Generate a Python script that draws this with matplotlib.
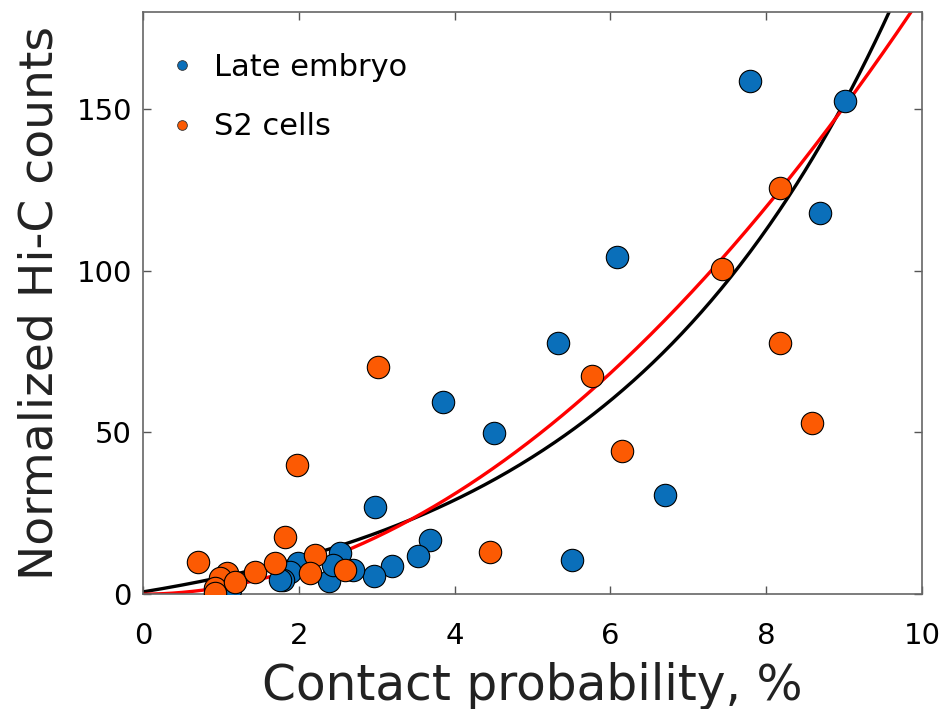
import numpy as np
import matplotlib
matplotlib.use("Agg")
import matplotlib.pyplot as plt
from matplotlib.lines import Line2D

# Late embryo data
embryo_x = [7.79, 9.01, 8.69, 6.08, 5.33, 3.85, 4.51, 6.70, 2.98, 5.51, 3.68, 3.53,
            3.20, 2.97, 2.39, 2.53, 2.70, 2.44, 1.99, 1.89, 1.80, 1.76, 1.12]
embryo_y = [158.6, 152.5, 117.9, 104.3, 77.8, 59.3, 49.7, 30.6, 26.9, 10.5, 16.7, 11.7,
            8.6, 5.6, 4.0, 12.7, 7.4, 9.0, 9.6, 6.8, 4.3, 4.3, 1.2]

# S2 cells data
s2_x = [8.18, 7.43, 8.18, 8.59, 5.76, 6.15, 3.02, 4.45, 1.98, 1.82, 0.71, 1.08,
        0.99, 0.92, 0.92, 1.18, 1.44, 1.69, 2.21, 2.14, 2.59]
s2_y = [125.6, 100.6, 77.8, 52.8, 67.6, 44.4, 70.1, 13.0, 39.8, 17.6, 9.9, 6.5,
        4.9, 1.9, 0.4, 3.7, 6.8, 9.6, 12.0, 6.5, 7.4]

# Fit curves (parameters)
black_A, black_B, black_C = 14.6, 0.27, 0.7     # A*(exp(Bx)-1)+C
red_a, red_b = 2.076, 1.95                      # a*x^b

BLUE = "#0a6fba"
ORANGE = "#fc5a03"

fig = plt.figure(figsize=(9.49, 7.09), dpi=100)
ax = fig.add_axes([0.1507, 0.162, 0.8208, 0.821])

xf = np.linspace(0, 10, 400)
ax.plot(xf, black_A * (np.exp(black_B * xf) - 1) + black_C, color="black", lw=2.4, zorder=2)
ax.plot(xf, red_a * xf ** red_b, color="red", lw=2.4, zorder=2)

ax.scatter(embryo_x, embryo_y, s=260, c=BLUE, edgecolors="black", linewidths=0.8, zorder=3)
ax.scatter(s2_x, s2_y, s=260, c=ORANGE, edgecolors="black", linewidths=0.8, zorder=4)

ax.set_xlim(0, 10)
ax.set_ylim(0, 180)
ax.set_xticks([0, 2, 4, 6, 8, 10])
ax.set_yticks([0, 50, 100, 150])
ax.tick_params(direction="in", top=True, right=True, length=6, width=1, color="#555555",
               labelsize=21)
ax.tick_params(axis="x", pad=20)
ax.tick_params(axis="y", pad=8)
for sp in ax.spines.values():
    sp.set_color("#666666")
    sp.set_linewidth(1.2)

ax.set_xlabel("Contact probability, %", fontsize=35, labelpad=9, color="#222222")
ax.set_ylabel("Normalized Hi-C counts", fontsize=34, labelpad=10, color="#222222")

handles = [Line2D([], [], ls="none", marker="o", ms=7, mfc=BLUE, mec="#333333", mew=0.6),
           Line2D([], [], ls="none", marker="o", ms=7, mfc=ORANGE, mec="#333333", mew=0.6)]
ax.legend(handles, ["Late embryo", "S2 cells"], loc="upper left", frameon=False,
          fontsize=22, labelspacing=1.0, handletextpad=0.45, handlelength=1.2,
          bbox_to_anchor=(0.026, 0.93), borderaxespad=0.0, borderpad=0.0)

fig.savefig("out.png", dpi=100)
